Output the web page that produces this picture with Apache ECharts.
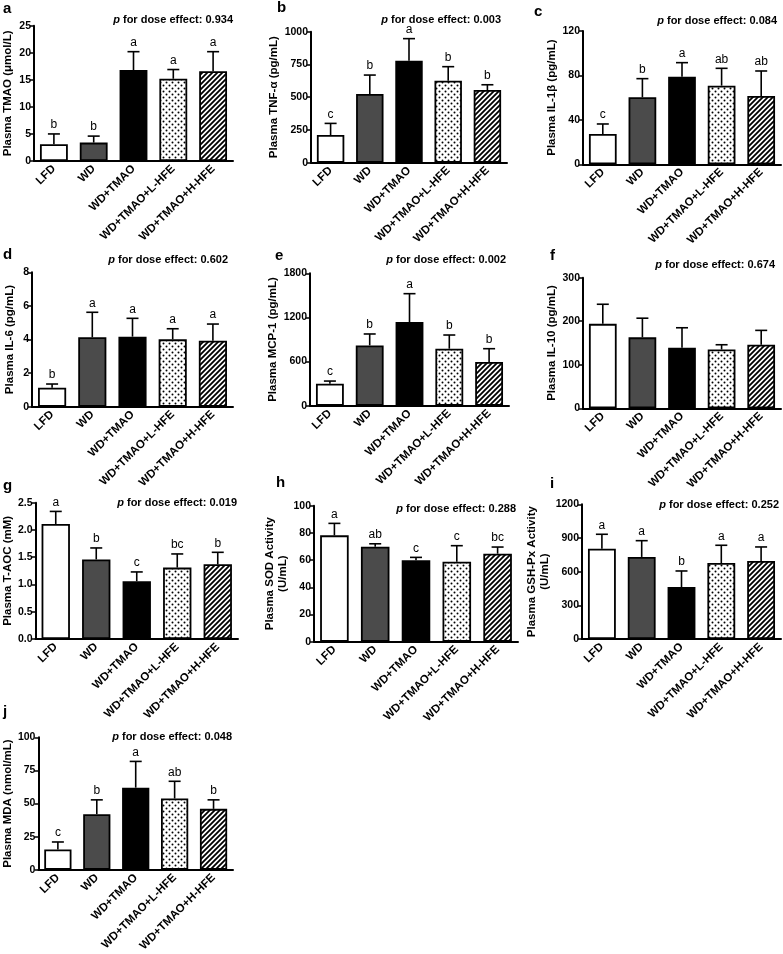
<!DOCTYPE html>
<html>
<head>
<meta charset="utf-8">
<script src="https://cdn.jsdelivr.net/npm/echarts@6/dist/echarts.min.js"></script>
<style>
html,body{margin:0;padding:0;background:#fff;}
#chart{width:783px;height:954px;}
</style>
</head>
<body>
<div id="chart"></div>
<script>
// ---------------- DATA ----------------
const groups = ['LFD', 'WD', 'WD+TMAO', 'WD+TMAO+L-HFE', 'WD+TMAO+H-HFE'];

const tmaoMean = [3.1, 3.4, 16.8, 15.2, 16.6];
const tmaoSD = [1.9, 1.2, 3.4, 1.7, 3.6];
const tmaoLetters = ['b', 'b', 'a', 'a', 'a'];
const tmaoTicks = [0, 5, 10, 15, 20, 25];

const tnfMean = [211, 524, 779, 626, 555];
const tnfSD = [89, 145, 168, 107, 40];
const tnfLetters = ['c', 'b', 'a', 'b', 'b'];
const tnfTicks = [0, 250, 500, 750, 1000];

const il1Mean = [27.3, 60.3, 78.9, 70.8, 61.5];
const il1SD = [9.0, 16.8, 12.6, 15.6, 22.5];
const il1Letters = ['c', 'b', 'a', 'ab', 'ab'];
const il1Ticks = [0, 40, 80, 120];

const il6Mean = [1.13, 4.13, 4.17, 4.01, 3.93];
const il6SD = [0.22, 1.49, 1.09, 0.63, 0.99];
const il6Letters = ['b', 'a', 'a', 'a', 'a'];
const il6Ticks = [0, 2, 4, 6, 8];

const mcpMean = [299, 820, 1138, 775, 594];
const mcpSD = [36, 155, 385, 186, 181];
const mcpLetters = ['c', 'b', 'a', 'b', 'b'];
const mcpTicks = [0, 600, 1200, 1800];

const il10Mean = [194, 163, 139, 135, 146];
const il10SD = [45, 44, 46, 11, 33];
const il10Letters = ['', '', '', '', ''];
const il10Ticks = [0, 100, 200, 300];

const taocMean = [2.11, 1.46, 1.06, 1.31, 1.37];
const taocSD = [0.23, 0.21, 0.17, 0.25, 0.22];
const taocLetters = ['a', 'b', 'c', 'bc', 'b'];
const taocTicks = [0, 0.5, 1.0, 1.5, 2.0, 2.5];

const sodMean = [78.2, 69.9, 59.8, 58.8, 64.7];
const sodSD = [8.8, 2.1, 2.2, 11.8, 4.9];
const sodLetters = ['a', 'ab', 'c', 'c', 'bc'];
const sodTicks = [0, 20, 40, 60, 80, 100];

const gshMean = [804, 731, 463, 677, 695];
const gshSD = [129, 145, 143, 158, 125];
const gshLetters = ['a', 'a', 'b', 'a', 'a'];
const gshTicks = [0, 300, 600, 900, 1200];

const mdaMean = [15.3, 42, 62, 53.8, 46];
const mdaSD = [5.7, 10.8, 19.8, 13, 6.8];
const mdaLetters = ['c', 'b', 'a', 'ab', 'b'];
const mdaTicks = [0, 25, 50, 75, 100];

const panelLabels = ['a', 'b', 'c', 'd', 'e', 'f', 'g', 'h', 'i', 'j'];
const yNames = ['Plasma TMAO (μmol/L)', 'Plasma TNF-α (pg/mL)', 'Plasma IL-1β (pg/mL)',
  'Plasma IL-6 (pg/mL)', 'Plasma MCP-1 (pg/mL)', 'Plasma IL-10 (pg/mL)',
  'Plasma T-AOC (mM)', 'Plasma SOD Activity\n(U/mL)', 'Plasma GSH-Px Activity\n(U/mL)',
  'Plasma MDA (nmol/mL)'];
const pValues = ['0.934', '0.003', '0.084', '0.602', '0.002', '0.674', '0.019', '0.288', '0.252', '0.048'];

// ---------------- LAYOUT / STYLE ----------------
const panels = [
  {mean: tmaoMean, sd: tmaoSD, letters: tmaoLetters, ticks: tmaoTicks},
  {mean: tnfMean, sd: tnfSD, letters: tnfLetters, ticks: tnfTicks},
  {mean: il1Mean, sd: il1SD, letters: il1Letters, ticks: il1Ticks},
  {mean: il6Mean, sd: il6SD, letters: il6Letters, ticks: il6Ticks},
  {mean: mcpMean, sd: mcpSD, letters: mcpLetters, ticks: mcpTicks},
  {mean: il10Mean, sd: il10SD, letters: il10Letters, ticks: il10Ticks},
  {mean: taocMean, sd: taocSD, letters: taocLetters, ticks: taocTicks, dec: 1},
  {mean: sodMean, sd: sodSD, letters: sodLetters, ticks: sodTicks},
  {mean: gshMean, sd: gshSD, letters: gshLetters, ticks: gshTicks},
  {mean: mdaMean, sd: mdaSD, letters: mdaLetters, ticks: mdaTicks}
];
// grid rects: left, top, width, height ; nameGap ; p text right/top ; label left/top
const layout = [
  {g: [32, 25.7, 201, 135.3], gap: 20, pr: 550, pt: 14.5, ll: 3, lt: 1},
  {g: [311, 31.7, 196, 131], gap: 29, pr: 282, pt: 14, ll: 277, lt: 0},
  {g: [583, 31, 198, 133.3], gap: 23, pr: 6, pt: 15, ll: 534, lt: 4},
  {g: [32, 272.3, 201, 134.4], gap: 16, pr: 555, pt: 254.5, ll: 3, lt: 247},
  {g: [310, 273.3, 199, 132.4], gap: 29, pr: 277, pt: 254.5, ll: 275, lt: 248},
  {g: [583, 277.7, 198, 130.6], gap: 22, pr: 8, pt: 259, ll: 550, lt: 248},
  {g: [33, 502.7, 205, 136.3], gap: 20, pr: 546, pt: 497, ll: 3, lt: 478},
  {g: [314, 505.7, 204, 136], gap: 16, pr: 267, pt: 503, ll: 276, lt: 475},
  {g: [582, 504.3, 199, 134.7], gap: 19, pr: 4, pt: 499, ll: 550, lt: 476},
  {g: [31, 737.3, 202, 133.4], gap: 17, pr: 551, pt: 731, ll: 3, lt: 704}
];

const FONT = 'Arial, "Liberation Sans", Helvetica, sans-serif';

function makeDots() {
  const c = document.createElement('canvas');
  c.width = 6; c.height = 6;
  const ctx = c.getContext('2d');
  ctx.fillStyle = '#fff'; ctx.fillRect(0, 0, 6, 6);
  ctx.fillStyle = '#000';
  ctx.beginPath(); ctx.arc(1.5, 1.5, 1.0, 0, Math.PI * 2); ctx.fill();
  ctx.beginPath(); ctx.arc(4.5, 4.5, 1.0, 0, Math.PI * 2); ctx.fill();
  return c;
}
function makeHatch() {
  const s = 5;
  const c = document.createElement('canvas');
  c.width = s; c.height = s;
  const ctx = c.getContext('2d');
  ctx.fillStyle = '#fff'; ctx.fillRect(0, 0, s, s);
  ctx.strokeStyle = '#000'; ctx.lineWidth = 1.8;
  ctx.beginPath();
  ctx.moveTo(-1, s + 1); ctx.lineTo(s + 1, -1);
  ctx.moveTo(-1, 1); ctx.lineTo(1, -1);
  ctx.moveTo(s - 1, s + 1); ctx.lineTo(s + 1, s - 1);
  ctx.stroke();
  return c;
}
const barFills = ['#ffffff', '#4b4b4b', '#000000',
  {image: makeDots(), repeat: 'repeat'},
  {image: makeHatch(), repeat: 'repeat'}];

const option = {animation: false, backgroundColor: '#fff', grid: [], xAxis: [], yAxis: [], series: [], title: []};

panels.forEach((p, k) => {
  const L = layout[k];
  option.grid.push({left: L.g[0], top: L.g[1], width: L.g[2], height: L.g[3], containLabel: false});
  option.xAxis.push({
    type: 'category', gridIndex: k, data: groups,
    axisLine: {lineStyle: {color: '#000', width: 2}},
    axisTick: {alignWithLabel: true, length: 4, lineStyle: {color: '#000', width: 1.5}},
    axisLabel: {rotate: 45, interval: 0, margin: 6, color: '#000', fontWeight: 'bold', fontSize: 11.5, fontFamily: FONT}
  });
  const t = p.ticks;
  option.yAxis.push({
    type: 'value', gridIndex: k, min: t[0], max: t[t.length - 1], interval: t[1] - t[0],
    name: yNames[k], nameLocation: 'middle', nameGap: L.gap,
    nameTextStyle: {color: '#000', fontWeight: 'bold', fontSize: 11.5, fontFamily: FONT, lineHeight: 13},
    axisLine: {show: true, lineStyle: {color: '#000', width: 2}},
    axisTick: {show: true, length: 4, lineStyle: {color: '#000', width: 1.5}},
    splitLine: {show: false},
    axisLabel: {margin: 3, color: '#000', fontWeight: 'bold', fontSize: 10.5, fontFamily: FONT,
      formatter: v => p.dec ? v.toFixed(p.dec) : String(v)}
  });
  option.series.push({
    type: 'bar', xAxisIndex: k, yAxisIndex: k, barWidth: '70%',
    data: p.mean.map((v, i) => ({value: v, itemStyle: {color: barFills[i], borderColor: '#000', borderWidth: 1.8}})),
    z: 2
  });
  option.series.push({
    type: 'custom', xAxisIndex: k, yAxisIndex: k, z: 3,
    data: p.mean.map((v, i) => [i, v, p.sd[i]]),
    renderItem: (params, api) => {
      const i = api.value(0), m = api.value(1), s = api.value(2);
      const b = api.coord([i, m]);
      const tp = api.coord([i, m + s]);
      const st = {stroke: '#000', lineWidth: 1.6};
      const ch = [
        {type: 'line', shape: {x1: b[0], y1: b[1], x2: tp[0], y2: tp[1]}, style: st},
        {type: 'line', shape: {x1: tp[0] - 6, y1: tp[1], x2: tp[0] + 6, y2: tp[1]}, style: st}
      ];
      const lt = p.letters[params.dataIndex];
      if (lt) ch.push({type: 'text', style: {text: lt, x: tp[0], y: tp[1] - 3, align: 'center', verticalAlign: 'bottom',
        fill: '#000', font: '12px ' + FONT}});
      return {type: 'group', children: ch};
    }
  });
  option.title.push({
    text: '{i|p} for dose effect: ' + pValues[k], right: L.pr, top: L.pt, padding: 0,
    textStyle: {color: '#000', fontWeight: 'bold', fontSize: 11, fontFamily: FONT,
      rich: {i: {fontStyle: 'italic', fontWeight: 'bold', fontSize: 11, fontFamily: FONT, color: '#000'}}}
  });
  option.title.push({
    text: panelLabels[k], left: L.ll, top: L.lt, padding: 0,
    textStyle: {color: '#000', fontWeight: 'bold', fontSize: 15, fontFamily: FONT}
  });
});

const chart = echarts.init(document.getElementById('chart'), null, {renderer: 'canvas'});
chart.setOption(option);
</script>
</body>
</html>
